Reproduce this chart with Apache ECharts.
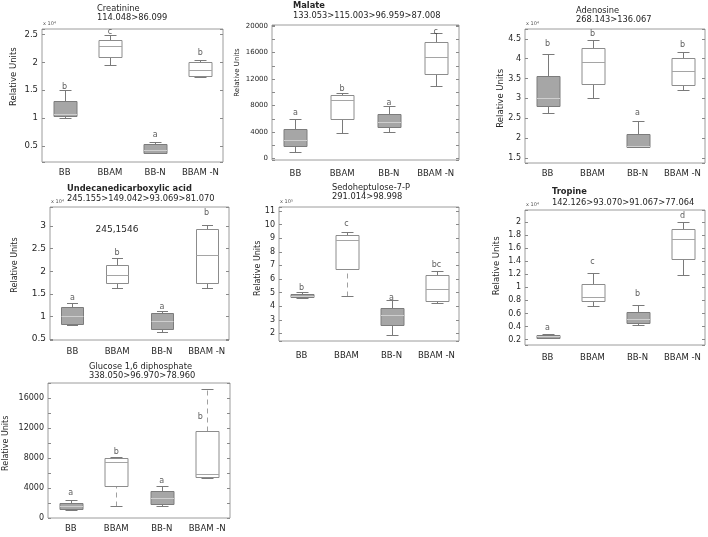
<!DOCTYPE html>
<html><head><meta charset="utf-8">
<script src="https://cdn.jsdelivr.net/npm/echarts@6/dist/echarts.min.js"></script>
<style>html,body{margin:0;padding:0;background:#fff}#c{width:708px;height:537px}</style>
</head><body><div id="c"></div>
<script>
// ---------- DATA ----------
const categories = ['BB', 'BBAM', 'BB-N', 'BBAM -N'];

// each box: [lower whisker, Q1, median, Q3, upper whisker]
const creatinine = [[0.995, 1.04, 1.08, 1.30, 1.50], [1.96, 2.09, 2.29, 2.41, 2.49], [0.37, 0.38, 0.42, 0.54, 0.57], [1.73, 1.76, 1.86, 2.00, 2.04]];
const creatinineLetters = ['b', 'c', 'a', 'b'];
const creatinineLetterY = [1.56, 2.55, 0.70, 2.17];

const malate = [[1000, 1900, 2800, 4500, 6000], [3800, 6000, 8800, 9600, 9850], [4000, 4700, 5500, 6800, 8000], [11000, 12800, 15400, 17600, 19000]];
const malateLetters = ['a', 'b', 'a', 'c'];
const malateLetterY = [6930, 10460, 8440, 19150];

const adenosine = [[2.635, 2.82, 3.01, 3.575, 4.13], [3.0, 3.37, 3.91, 4.26, 4.46], [1.78, 1.78, 1.79, 2.09, 2.42], [3.20, 3.35, 3.70, 4.01, 4.16]];
const adenosineLetters = ['b', 'b', 'a', 'b'];
const adenosineLetterY = [4.37, 4.62, 2.63, 4.36];

const undecane = [[0.805, 0.84, 1.0, 1.205, 1.29], [1.62, 1.73, 1.91, 2.13, 2.295], [0.655, 0.725, 0.91, 1.075, 1.13], [1.63, 1.74, 2.36, 2.93, 3.02]];
const undecaneLetters = ['a', 'b', 'a', 'b'];
const undecaneLetterY = [1.41, 2.40, 1.22, 3.28];

const sedoheptulose = [[4.62, 4.64, 4.78, 4.90, 5.05], [4.77, 6.70, 8.90, 9.26, 9.46], [1.88, 2.59, 3.35, 3.84, 4.42], [4.20, 4.35, 5.23, 6.28, 6.60]];
const sedoheptuloseLetters = ['b', 'c', 'a', 'bc'];
const sedoheptuloseLetterY = [5.35, 10.02, 4.62, 7.01];

const tropine = [[0.22, 0.225, 0.25, 0.276, 0.29], [0.715, 0.79, 0.857, 1.046, 1.225], [0.42, 0.455, 0.516, 0.628, 0.735], [1.184, 1.434, 1.735, 1.888, 2.0]];
const tropineLetters = ['a', 'c', 'b', 'd'];
const tropineLetterY = [0.373, 1.38, 0.90, 2.09];

const glucose = [[1100, 1200, 1550, 1950, 2400], [1550, 4220, 7470, 8000, 8130], [1550, 1910, 2670, 3640, 4220], [5330, 5470, 5870, 11560, 17200]];
const glucoseLetters = ['a', 'b', 'a', 'b'];
const glucoseLetterY = [3330, 8800, 4980, 13470];

// ---------- LAYOUT / STYLE ----------
const FONT = '"DejaVu Sans", sans-serif';
const TXT = '#262626';
const panels = [
  { data: creatinine, letters: creatinineLetters, letterY: creatinineLetterY,
    title: ['Creatinine', '114.048>86.099'], bold: false, tx: 97, ty: [9, 18.3],
    frame: [42, 29, 223, 162], yMin: 0.21, yMax: 2.6, tickStep: 0.5, labelStep: 0.5,
    exp: 'x 10\u2074', name: [13.3, 76.7, 8.5], tickFont: 8.5, xMargin: 6, dashed: {}, letterDx: [0, 0, 0, 0] },
  { data: malate, letters: malateLetters, letterY: malateLetterY,
    title: ['Malate', '133.053>115.003>96.959>87.008'], bold: true, tx: 293, ty: [6, 15.7],
    frame: [272, 25, 459, 160], yMin: -200, yMax: 20150, tickStep: 2000, labelStep: 4000,
    exp: null, name: [236.7, 72.5, 7], tickFont: 7, xMargin: 9, dashed: {}, letterDx: [0, 0, 0, 0] },
  { data: adenosine, letters: adenosineLetters, letterY: adenosineLetterY,
    title: ['Adenosine', '268.143>136.067'], bold: false, tx: 576, ty: [11, 20],
    frame: [525, 29, 705, 163], yMin: 1.37, yMax: 4.75, tickStep: 0.5, labelStep: 0.5,
    exp: 'x 10\u2074', name: [500.3, 98.3, 8.5], tickFont: 8, xMargin: 6, dashed: {}, letterDx: [0, 0, 0, 0] },
  { data: undecane, letters: undecaneLetters, letterY: undecaneLetterY,
    title: ['Undecanedicarboxylic acid', '245.155>149.042>93.069>81.070'], bold: true, tx: 67, ty: [189, 198.7],
    frame: [50, 207, 229, 340], yMin: 0.48, yMax: 3.42, tickStep: 0.5, labelStep: 0.5,
    exp: 'x 10\u2074', name: [15, 265, 8], tickFont: 9, xMargin: 7, dashed: {}, letterDx: [0, 0, 0, 0] },
  { data: sedoheptulose, letters: sedoheptuloseLetters, letterY: sedoheptuloseLetterY,
    title: ['Sedoheptulose-7-P', '291.014>98.998'], bold: false, tx: 332, ty: [188.3, 196.7],
    frame: [279, 207, 459, 341], yMin: 1.44, yMax: 11.29, tickStep: 1, labelStep: 1,
    exp: 'x 10\u2075', name: [258.3, 268.3, 8], tickFont: 8, xMargin: 10, dashed: { low: [1] }, letterDx: [0, 0, 0, 0] },
  { data: tropine, letters: tropineLetters, letterY: tropineLetterY,
    title: ['Tropine', '142.126>93.070>91.067>77.064'], bold: true, tx: 552, ty: [191.7, 202.7],
    frame: [525, 210, 705, 345], yMin: 0.118, yMax: 2.18, tickStep: 0.2, labelStep: 0.2,
    exp: 'x 10\u2074', name: [496.3, 265.8, 8.5], tickFont: 8, xMargin: 8, dashed: {}, letterDx: [0, 0, 0, 0] },
  { data: glucose, letters: glucoseLetters, letterY: glucoseLetterY,
    title: ['Glucose 1,6 diphosphate', '338.050>96.970>78.960'], bold: false, tx: 89, ty: [366.7, 376],
    frame: [48, 383, 230, 518], yMin: 0, yMax: 18000, tickStep: 2000, labelStep: 4000,
    exp: null, name: [6, 443.3, 8], tickFont: 8, xMargin: 6, dashed: { low: [1], high: [3] }, letterDx: [0, 0, 0, -7] }
];

function isMultiple(v, step) {
  const r = v / step;
  return Math.abs(r - Math.round(r)) < 1e-6;
}
function fmt(v) { return String(+(+v).toFixed(6)); }

function makeRender(dashed) {
  return function (params, api) {
    const k = api.value(0);
    const p = [1, 2, 3, 4, 5].map(j => api.coord([k, api.value(j)]));
    const band = api.size([1, 0])[0];
    const cx = Math.round(p[0][0]) + 0.5;
    const w = Math.round(band * 0.5);
    const cw = Math.round(w * 0.5);
    const y = p.map(q => Math.round(q[1]) + 0.5);
    const gray = (k % 2 === 0);
    const lowDash = dashed.low && dashed.low.indexOf(k) >= 0;
    const highDash = dashed.high && dashed.high.indexOf(k) >= 0;
    const wc = '#7a7a7a';
    return {
      type: 'group',
      children: [
        { type: 'line', shape: { x1: cx, y1: y[0], x2: cx, y2: y[1] }, style: { stroke: lowDash ? '#a0a0a0' : wc, lineWidth: 1, lineDash: lowDash ? [5, 4] : null } },
        { type: 'line', shape: { x1: cx, y1: y[3], x2: cx, y2: y[4] }, style: { stroke: highDash ? '#a0a0a0' : wc, lineWidth: 1, lineDash: highDash ? [5, 4] : null } },
        { type: 'line', shape: { x1: cx - cw / 2, y1: y[0], x2: cx + cw / 2, y2: y[0] }, style: { stroke: wc, lineWidth: 1 } },
        { type: 'line', shape: { x1: cx - cw / 2, y1: y[4], x2: cx + cw / 2, y2: y[4] }, style: { stroke: wc, lineWidth: 1 } },
        { type: 'rect', shape: { x: cx - w / 2, y: y[3], width: w, height: Math.max(y[1] - y[3], 1) },
          style: { fill: gray ? '#a6a6a6' : '#ffffff', stroke: gray ? '#7c7c7c' : '#8c8c8c', lineWidth: 1 } },
        { type: 'line', shape: { x1: cx - w / 2, y1: y[2], x2: cx + w / 2, y2: y[2] }, style: { stroke: gray ? '#cfcfcf' : '#a5a5a5', lineWidth: 1 } }
      ]
    };
  };
}

const grid = [], xAxis = [], yAxis = [], series = [], graphic = [];
panels.forEach((P, i) => {
  const [l, t, r, b] = P.frame;
  grid.push({ left: l, top: t, width: r - l, height: b - t, show: true, borderColor: '#9c9c9c', borderWidth: 1,
    backgroundColor: 'transparent', containLabel: false, outerBoundsMode: 'none' });
  xAxis.push({ gridIndex: i, type: 'category', data: categories,
    axisLine: { show: false }, axisTick: { show: false }, splitLine: { show: false },
    axisLabel: { margin: P.xMargin, fontSize: 8.5, color: TXT, fontFamily: FONT, interval: 0 } });
  const yBase = { gridIndex: i, type: 'value', min: P.yMin, max: P.yMax,
    minInterval: P.tickStep, maxInterval: P.tickStep, splitNumber: 5,
    axisLine: { show: false }, splitLine: { show: false },
    axisTick: { show: true, inside: true, length: 3, lineStyle: { color: '#8a8a8a' } } };
  yAxis.push(Object.assign({}, yBase, { position: 'left',
    axisLabel: { fontSize: P.tickFont, color: TXT, fontFamily: FONT, margin: 4,
      showMinLabel: true, showMaxLabel: true,
      formatter: v => (isMultiple(v, P.labelStep) ? fmt(v) : '') } }));
  yAxis.push(Object.assign({}, yBase, { position: 'right', axisLabel: { show: false } }));
  series.push({ type: 'custom', xAxisIndex: i, yAxisIndex: 2 * i, renderItem: makeRender(P.dashed),
    encode: { x: 0, y: [1, 2, 3, 4, 5] }, clip: false, silent: true,
    data: P.data.map((d, k) => [k].concat(d)) });
  series.push({ type: 'scatter', xAxisIndex: i, yAxisIndex: 2 * i, symbolSize: 1, silent: true,
    itemStyle: { color: 'rgba(0,0,0,0)' },
    label: { show: true, position: 'inside', formatter: p => P.letters[p.dataIndex], fontSize: 8, color: '#333', fontFamily: FONT },
    data: P.letters.map((s, k) => ({ value: [k, P.letterY[k]], label: { offset: [P.letterDx[k], 0] } })) });
  // titles
  graphic.push({ type: 'text', x: P.tx, y: P.ty[0], silent: true,
    style: { text: P.title[0], fill: TXT, font: (P.bold ? 'bold ' : '') + '8.3px ' + FONT, textAlign: 'left', textVerticalAlign: 'middle', verticalAlign: 'middle' } });
  graphic.push({ type: 'text', x: P.tx, y: P.ty[1], silent: true,
    style: { text: P.title[1], fill: TXT, font: '8.3px ' + FONT, textAlign: 'left', textVerticalAlign: 'middle', verticalAlign: 'middle' } });
  // y-axis name
  graphic.push({ type: 'text', x: P.name[0], y: P.name[1], rotation: Math.PI / 2, silent: true,
    style: { text: 'Relative Units', fill: TXT, font: P.name[2] + 'px ' + FONT, textAlign: 'center', textVerticalAlign: 'middle', verticalAlign: 'middle' } });
  // exponent
  if (P.exp) {
    graphic.push({ type: 'text', x: l + 1, y: t - 5, silent: true,
      style: { text: P.exp, fill: '#555', font: '5px ' + FONT, textAlign: 'left', textVerticalAlign: 'middle', verticalAlign: 'middle' } });
  }
});
graphic.push({ type: 'text', x: 117, y: 230, silent: true,
  style: { text: '245,1546', fill: TXT, font: '9px ' + FONT, textAlign: 'center', textVerticalAlign: 'middle', verticalAlign: 'middle' } });

const chart = echarts.init(document.getElementById('c'), null, { renderer: 'canvas' });
chart.setOption({ animation: false, backgroundColor: '#ffffff', grid, xAxis, yAxis, series, graphic });
</script></body></html>
